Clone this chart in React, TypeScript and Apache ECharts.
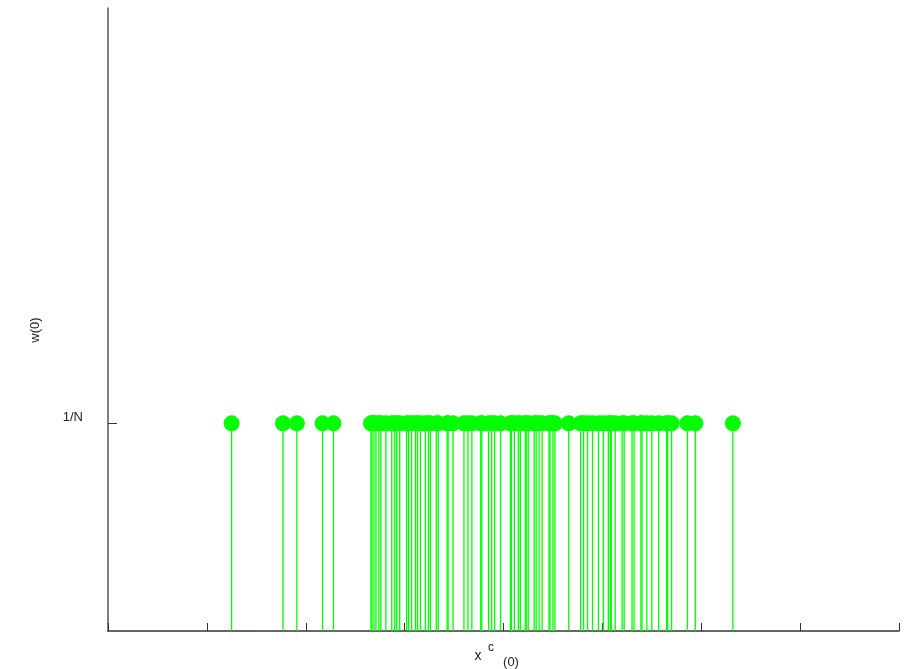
import React, { useEffect, useRef } from "react";
import * as echarts from "echarts";

// particle positions x^c(0)
const particles: number[] = [
  -2.75, -2.23, -2.09, -1.83, -1.72, -1.34, -1.33, -1.31, -1.29, -1.26, -1.24,
  -1.19, -1.13, -1.10, -1.08, -1.05, -0.98, -0.96, -0.93, -0.89, -0.87, -0.84,
  -0.79, -0.76, -0.74, -0.68, -0.66, -0.57, -0.56, -0.51, -0.40, -0.36, -0.32,
  -0.23, -0.22, -0.15, -0.12, -0.09, -0.03, 0.07, 0.08, 0.11, 0.15, 0.17, 0.22,
  0.23, 0.25, 0.31, 0.33, 0.36, 0.39, 0.46, 0.47, 0.50, 0.52, 0.66, 0.78, 0.81,
  0.85, 0.90, 0.96, 1.01, 1.06, 1.08, 1.09, 1.13, 1.20, 1.22, 1.30, 1.32, 1.39,
  1.40, 1.45, 1.50, 1.57, 1.65, 1.66, 1.70, 1.86, 1.94, 2.32,
];
const N = particles.length;
// every particle carries the same weight 1/N
const weights: number[] = particles.map(() => 1 / N);
const yTickValues: number[] = [1 / N];
const yTickLabels: string[] = ["1/N"];
const xRange: [number, number] = [-4, 4];

export default function App() {
  const ref = useRef<HTMLDivElement>(null);
  useEffect(() => {
    if (!ref.current) return;
    const chart = echarts.init(ref.current, undefined, { renderer: "svg" });
    const data = particles.map((x, i) => [x, weights[i]]);
    const font = "'Liberation Sans', Arial, sans-serif";
    const txt = (text: string, x: number, y: number, size = 13) => ({
      type: "text",
      x,
      y,
      style: { text, fontSize: size, fontFamily: font, fill: "#222", align: "center", verticalAlign: "middle" },
    });
    chart.setOption({
      animation: false,
      grid: { left: 108, right: 16, top: 8, bottom: 38, containLabel: false },
      xAxis: {
        type: "value",
        min: xRange[0],
        max: xRange[1],
        interval: 1,
        axisLine: { show: true, onZero: false, lineStyle: { color: "#333", width: 1.5 } },
        axisTick: { show: true, inside: true, length: 8, lineStyle: { color: "#333", width: 1 } },
        axisLabel: { show: false },
        splitLine: { show: false },
      },
      yAxis: {
        type: "value",
        min: 0,
        max: 3 / N,
        axisLine: { show: true, onZero: false, lineStyle: { color: "#555", width: 1.5 } },
        axisTick: {
          show: true,
          inside: true,
          length: 9,
          customValues: yTickValues,
          lineStyle: { color: "#333", width: 1 },
        },
        axisLabel: {
          show: true,
          customValues: yTickValues,
          formatter: (v: number) => {
            const idx = yTickValues.findIndex((t) => Math.abs(t - v) < 1e-9);
            return idx >= 0 ? yTickLabels[idx] : "";
          },
          margin: 25,
          fontSize: 13,
          fontFamily: font,
          color: "#222",
          verticalAlign: "bottom",
        },
        splitLine: { show: false },
      },
      graphic: [
        {
          type: "text",
          x: 34,
          y: 330,
          rotation: Math.PI / 2,
          style: {
            text: "w(0)",
            fontSize: 13,
            fontFamily: font,
            fill: "#222",
            align: "center",
            verticalAlign: "middle",
          },
        },
        txt("x", 478, 655, 14),
        txt("c", 491, 647, 12),
        txt("(0)", 511, 661, 13),
      ],
      series: [
        {
          type: "custom",
          data,
          z: 1,
          renderItem: (params: any, api: any) => {
            const x = api.value(0);
            const y = api.value(1);
            const p0 = api.coord([x, 0]);
            const p1 = api.coord([x, y]);
            return {
              type: "line",
              shape: { x1: p0[0], y1: p0[1], x2: p1[0], y2: p1[1] },
              style: { stroke: "#00ff00", lineWidth: 1.3 },
            };
          },
        },
        {
          type: "scatter",
          data,
          z: 2,
          symbol: "circle",
          symbolSize: 16,
          itemStyle: { color: "#00ff00", opacity: 1 },
        },
      ],
    });
    return () => chart.dispose();
  }, []);
  return (
    <div
      ref={ref}
      style={{ position: "fixed", left: 0, top: 0, width: 915, height: 669 }}
    />
  );
}
